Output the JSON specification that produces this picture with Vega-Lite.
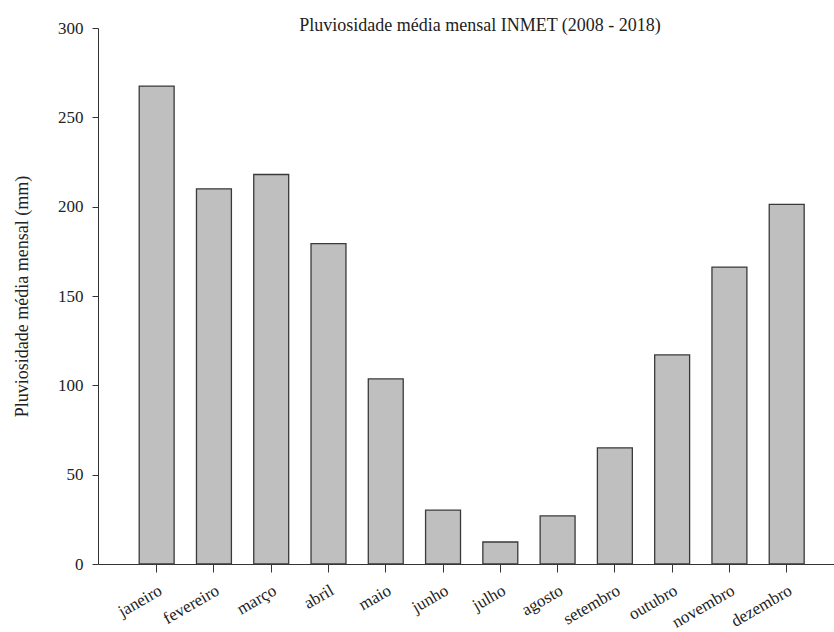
{
  "$schema": "https://vega.github.io/schema/vega-lite/v6.json",
  "autosize": "none",
  "width": 736,
  "height": 536,
  "padding": {"left": 98, "top": 28, "right": 0, "bottom": 68},
  "background": "white",
  "title": {
    "text": "Pluviosidade média mensal INMET (2008 - 2018)",
    "font": "Liberation Serif",
    "fontSize": 18,
    "fontWeight": "normal",
    "color": "#222222",
    "anchor": "middle",
    "offset": -16,
    "dx": 14
  },
  "data": {
    "values": [
      {"mes": "janeiro", "chuva": 267.5},
      {"mes": "fevereiro", "chuva": 210},
      {"mes": "março", "chuva": 218},
      {"mes": "abril", "chuva": 179.3},
      {"mes": "maio", "chuva": 103.6},
      {"mes": "junho", "chuva": 30.1},
      {"mes": "julho", "chuva": 12.3},
      {"mes": "agosto", "chuva": 26.9},
      {"mes": "setembro", "chuva": 65},
      {"mes": "outubro", "chuva": 117},
      {"mes": "novembro", "chuva": 166.2},
      {"mes": "dezembro", "chuva": 201.3}
    ]
  },
  "mark": {"type": "bar", "fill": "#bfbfbf", "stroke": "#3a3a3a", "strokeWidth": 1.3},
  "encoding": {
    "x": {
      "field": "mes",
      "type": "nominal",
      "sort": null,
      "scale": {"paddingInner": 0.39, "paddingOuter": 0.62, "align": 0.58},
      "axis": {
        "title": null,
        "labelAngle": -30,
        "labelFont": "Liberation Serif",
        "labelFontSize": 17,
        "labelColor": "#222222",
        "labelPadding": 10,
        "tickSize": 8,
        "tickColor": "#333333",
        "domainColor": "#333333",
        "grid": false
      }
    },
    "y": {
      "field": "chuva",
      "type": "quantitative",
      "scale": {"domain": [0, 300], "nice": false},
      "axis": {
        "title": "Pluviosidade média mensal (mm)",
        "titleFont": "Liberation Serif",
        "titleFontSize": 18,
        "titleFontWeight": "normal",
        "titleColor": "#222222",
        "titlePadding": 26,
        "values": [0, 50, 100, 150, 200, 250, 300],
        "labelFont": "Liberation Serif",
        "labelFontSize": 17,
        "labelColor": "#222222",
        "labelPadding": 9,
        "tickSize": 6,
        "tickColor": "#333333",
        "domainColor": "#333333",
        "grid": false
      }
    }
  },
  "config": {
    "view": {"stroke": null}
  }
}
